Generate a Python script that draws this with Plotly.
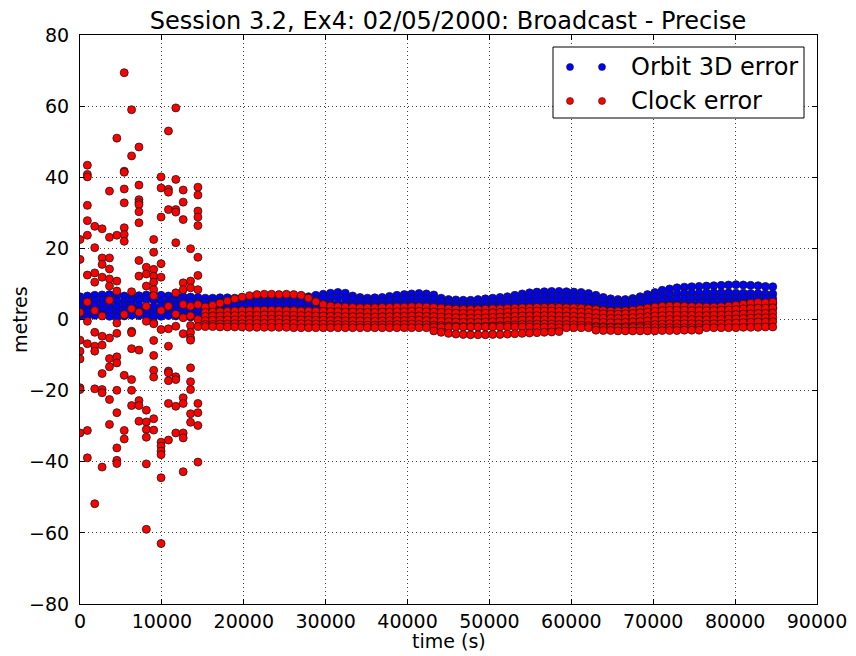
import plotly.graph_objects as go

# ---------------- data ----------------
# epochs every 900 s from 0 to 84600 s
time_s = [900 * k for k in range(95)]
band_time_s = time_s[17:]          # epochs after the noisy start (15300 s ...)
wild_time_s = time_s[:17]          # first epochs (0 ... 14400 s)

# Orbit 3D error tracks (m), one value per epoch
orbit_1 = [6.4, 6.6, 6.8, 6.9, 7.0, 6.8, 6.6, 6.5, 6.7, 6.9, 7.0, 6.8, 6.6, 6.5, 6.4, 6.3, 6.2,
           6.0, 6.0, 6.1, 6.1, 6.0, 6.1, 6.2, 6.3, 6.3, 6.2, 6.3, 6.2, 6.1, 6.2, 6.4,
           6.8, 7.1, 7.4, 7.6, 7.4, 6.6, 6.2, 6.0, 6.1, 6.2, 6.5, 6.8, 7.0, 7.2, 7.3,
           7.2, 6.9, 6.0, 5.6, 5.5, 5.4, 5.4, 5.6, 5.8, 6.0, 6.2, 6.4, 6.8, 7.2, 7.5,
           7.7, 7.8, 7.9, 7.9, 7.8, 7.7, 7.6, 7.3, 6.8, 6.2, 5.8, 5.6, 5.6, 5.9, 6.4,
           7.0, 7.6, 8.2, 8.6, 8.9, 9.1, 9.2, 9.3, 9.4, 9.5, 9.6, 9.7, 9.8, 9.7, 9.6,
           9.5, 9.3, 9.2]
orbit_2 = [5.2, 5.0, 5.3, 5.5, 5.4, 5.2, 5.0, 5.3, 5.5, 5.6, 5.4, 5.2, 5.0, 4.9, 5.1, 5.0, 4.9,
           4.8, 4.8, 4.9, 5.0, 5.0, 5.1, 5.1, 5.0, 5.0, 5.1, 5.2, 5.3, 5.3, 5.4, 5.5,
           5.6, 5.8, 6.0, 6.1, 6.0, 5.6, 5.2, 5.0, 5.0, 5.1, 5.3, 5.5, 5.7, 5.9, 6.0,
           5.9, 5.6, 5.0, 4.6, 4.4, 4.3, 4.3, 4.4, 4.6, 4.8, 5.0, 5.3, 5.6, 5.9, 6.1,
           6.3, 6.4, 6.5, 6.5, 6.4, 6.3, 6.2, 6.0, 5.6, 5.1, 4.8, 4.7, 4.8, 5.1, 5.5,
           5.9, 6.3, 6.7, 7.0, 7.2, 7.3, 7.4, 7.4, 7.5, 7.5, 7.5, 7.5, 7.4, 7.4, 7.3,
           7.3, 7.2, 7.2]
orbit_3 = [3.8, 3.6, 3.9, 4.0, 3.7, 3.5, 3.8, 4.0, 3.9, 3.6, 3.5, 3.7, 3.9, 3.8, 3.6, 3.5, 3.7,
           3.6, 3.6, 3.7, 3.7, 3.8, 3.8, 3.9, 3.9, 4.0, 4.0, 4.0, 4.1, 4.1, 4.2, 4.2,
           4.3, 4.4, 4.5, 4.5, 4.4, 4.2, 4.0, 3.9, 3.9, 4.0, 4.1, 4.2, 4.4, 4.5, 4.6,
           4.5, 4.3, 3.9, 3.6, 3.4, 3.3, 3.3, 3.4, 3.5, 3.7, 3.9, 4.1, 4.4, 4.6, 4.8,
           5.0, 5.1, 5.2, 5.2, 5.1, 5.0, 4.9, 4.7, 4.4, 4.0, 3.8, 3.7, 3.8, 4.0, 4.3,
           4.6, 4.9, 5.2, 5.5, 5.7, 5.8, 5.9, 6.0, 6.0, 6.1, 6.1, 6.1, 6.0, 6.0, 5.9,
           5.9, 5.8, 5.8]
orbit_4 = [2.4, 2.2, 2.5, 2.6, 2.3, 2.1, 2.4, 2.6, 2.5, 2.2, 2.1, 2.3, 2.5, 2.4, 2.2, 2.1, 2.3,
           2.3, 2.3, 2.4, 2.4, 2.5, 2.5, 2.6, 2.6, 2.7, 2.7, 2.7, 2.8, 2.8, 2.8, 2.9,
           3.0, 3.0, 3.1, 3.1, 3.0, 2.9, 2.8, 2.7, 2.7, 2.8, 2.9, 3.0, 3.1, 3.2, 3.2,
           3.1, 3.0, 2.7, 2.5, 2.3, 2.2, 2.2, 2.3, 2.4, 2.5, 2.7, 2.9, 3.1, 3.3, 3.4,
           3.5, 3.6, 3.7, 3.7, 3.6, 3.5, 3.4, 3.3, 3.1, 2.8, 2.6, 2.5, 2.6, 2.8, 3.0,
           3.3, 3.6, 3.9, 4.1, 4.3, 4.4, 4.5, 4.6, 4.6, 4.7, 4.7, 4.7, 4.6, 4.6, 4.5,
           4.5, 4.4, 4.4]
orbit_5 = [1.0, 0.8, 1.2, 1.3, 0.9, 0.7, 1.0, 1.2, 1.1, 0.8, 0.7, 0.9, 1.1, 1.0, 0.8, 0.7, 0.9,
           1.0, 1.0, 1.1, 1.1, 1.2, 1.2, 1.3, 1.3, 1.4, 1.4, 1.4, 1.5, 1.5, 1.5, 1.6,
           1.7, 1.7, 1.8, 1.8, 1.7, 1.6, 1.5, 1.4, 1.4, 1.5, 1.6, 1.7, 1.8, 1.9, 1.9,
           1.8, 1.7, 1.4, 1.2, 1.0, 0.9, 0.9, 1.0, 1.1, 1.2, 1.4, 1.6, 1.8, 2.0, 2.1,
           2.2, 2.3, 2.4, 2.4, 2.3, 2.2, 2.1, 2.0, 1.8, 1.5, 1.3, 1.2, 1.3, 1.5, 1.7,
           2.0, 2.3, 2.6, 2.8, 3.0, 3.1, 3.2, 3.3, 3.3, 3.4, 3.4, 3.4, 3.3, 3.3, 3.2,
           3.2, 3.1, 3.1]

# Clock error (m): scattered values during the first epochs, one list per epoch
clock_wild = [
    [22.5, 16.9, 2.0, -5.8, -8.9, -11.1, -19.2, -19.7, -31.9],
    [43.4, 40.8, 40.1, 32.1, 27.8, 23.7, 12.5, 4.9, -0.5, -6.8, -31.2, -38.9],
    [26.2, 20.2, 13.1, 10.5, 2.5, -3.6, -7.5, -8.9, -19.5, -51.8],
    [25.5, 17.3, 15.5, 11.9, 1.0, -4.7, -7.2, -15.2, -19.7, -20.6, -41.5],
    [36.1, 23.1, 17.3, 14.2, 11.4, 9.4, 5.4, -5.2, -11.0, -13.3, -22.5, -29.5],
    [51.0, 23.7, 10.8, 8.0, -1.0, -3.9, -10.5, -12.2, -19.9, -26.2, -36.1, -39.6, -40.5],
    [69.4, 41.7, 41.4, 36.7, 32.8, 25.8, 23.9, 22.0, 1.4, -15.7, -31.2, -33.6],
    [59.0, 46.0, 7.8, 3.0, -3.3, -3.7, -8.2, -16.9, -19.9, -24.2],
    [48.5, 37.8, 33.7, 32.9, 32.3, 30.3, 27.2, 16.6, 12.2, 2.0, -8.6, -22.8, -24.2, -28.6],
    [14.7, 12.8, 9.4, 3.7, -0.5, -25.5, -28.8, -30.9, -33.1, -40.6, -59.0],
    [22.5, 18.9, 14.1, 12.2, 10.5, 8.4, 6.7, -1.0, -1.2, -5.9, -10.1, -14.3, -16.2, -27.9, -31.1],
    [40.1, 37.0, 28.8, 15.7, 11.9, 2.5, -2.8, -34.5, -35.6, -37.0, -38.0, -44.5, -63.0],
    [53.0, 36.6, 35.8, 30.9, 3.7, -2.6, -7.5, -14.5, -15.0, -17.2, -23.6, -33.9],
    [59.5, 39.4, 30.9, 30.2, 21.6, 7.5, 1.5, -1.9, -16.1, -16.9, -24.4, -31.9],
    [36.4, 33.0, 28.1, 10.3, 8.4, 4.2, 0.5, -4.0, -22.0, -23.6, -31.9, -33.3, -42.8],
    [19.9, 10.8, 8.9, 3.7, 1.0, -1.7, -3.6, -5.2, -5.8, -13.6, -17.5, -19.7, -26.5, -28.9],
    [37.2, 35.0, 30.5, 28.8, 26.4, 17.5, 12.4, 8.4, 4.2, 0.0, -2.0, -23.6, -26.2, -29.8, -40.1],
]

# Clock error tracks after 15300 s (one value per epoch of band_time_s)
clock_1 = [3.5, 4.0, 4.6, 5.2, 5.8, 6.3, 6.7, 7.0, 7.1, 7.1, 7.0, 7.1, 7.0, 6.8, 6.0,
           5.0, 4.2, 3.8, 3.6, 3.5, 3.4, 3.3, 3.3, 3.3, 3.4, 3.4, 3.5, 3.5, 3.6, 3.6,
           3.5, 3.4, 3.2, 3.0, 2.9, 2.8, 2.8, 2.8, 2.9, 3.0, 3.0, 3.1, 3.2, 3.3, 3.3,
           3.4, 3.4, 3.4, 3.4, 3.3, 3.3, 3.2, 3.0, 2.8, 2.5, 2.3, 2.3, 2.4, 2.6, 2.9,
           3.2, 3.5, 3.7, 3.8, 3.8, 3.7, 3.6, 3.6, 3.5, 3.5, 3.6, 3.8, 4.0, 4.3, 4.6,
           4.8, 4.7, 4.9]
clock_2 = [2.0, 2.1, 2.2, 2.3, 2.4, 2.5, 2.5, 2.6, 2.6, 2.6, 2.6, 2.5, 2.5, 2.4, 2.4,
           2.3, 2.3, 2.2, 2.2, 2.1, 2.1, 2.0, 2.0, 2.0, 2.1, 2.1, 2.2, 2.2, 2.3, 2.3,
           2.2, 2.1, 2.0, 1.9, 1.8, 1.7, 1.7, 1.7, 1.8, 1.9, 2.0, 2.1, 2.2, 2.3, 2.3,
           2.4, 2.4, 2.4, 2.3, 2.3, 2.2, 2.1, 2.0, 1.8, 1.6, 1.5, 1.5, 1.6, 1.7, 1.9,
           2.1, 2.3, 2.5, 2.6, 2.6, 2.6, 2.5, 2.5, 2.5, 2.5, 2.6, 2.7, 2.8, 3.0, 3.1,
           3.2, 3.2, 3.3]
clock_3 = [0.9, 1.0, 1.0, 1.1, 1.1, 1.2, 1.2, 1.2, 1.3, 1.3, 1.3, 1.2, 1.2, 1.1, 1.1,
           1.0, 1.0, 0.9, 0.9, 0.8, 0.8, 0.8, 0.7, 0.7, 0.8, 0.8, 0.9, 0.9, 1.0, 1.0,
           0.9, 0.8, 0.7, 0.6, 0.5, 0.5, 0.4, 0.4, 0.5, 0.6, 0.7, 0.8, 0.9, 1.0, 1.0,
           1.1, 1.1, 1.1, 1.0, 1.0, 0.9, 0.8, 0.7, 0.5, 0.4, 0.3, 0.3, 0.4, 0.5, 0.6,
           0.8, 1.0, 1.1, 1.2, 1.2, 1.2, 1.2, 1.1, 1.1, 1.2, 1.2, 1.3, 1.4, 1.5, 1.6,
           1.7, 1.7, 1.8]
clock_4 = [-0.3, -0.2, -0.2, -0.1, -0.1, 0.0, 0.0, 0.0, 0.1, 0.1, 0.1, 0.0, 0.0, -0.1, -0.1,
           -0.2, -0.2, -0.3, -0.3, -0.4, -0.4, -0.4, -0.5, -0.5, -0.4, -0.4, -0.3, -0.3, -0.2, -0.2,
           -0.3, -0.4, -0.5, -0.6, -0.7, -0.8, -0.8, -0.8, -0.7, -0.6, -0.5, -0.4, -0.3, -0.2, -0.2,
           -0.1, -0.1, -0.1, -0.2, -0.2, -0.3, -0.4, -0.5, -0.7, -0.8, -0.9, -0.9, -0.8, -0.7, -0.6,
           -0.4, -0.2, -0.1, 0.0, 0.0, 0.0, 0.0, -0.1, -0.1, 0.0, 0.0, 0.1, 0.2, 0.3, 0.4,
           0.5, 0.5, 0.6]
clock_5 = [-1.4, -1.4, -1.3, -1.3, -1.2, -1.2, -1.1, -1.1, -1.1, -1.0, -1.0, -1.1, -1.1, -1.2, -1.2,
           -1.3, -1.3, -1.4, -1.4, -1.5, -1.5, -1.6, -1.6, -1.6, -1.5, -1.5, -1.4, -1.4, -1.3, -1.4,
           -1.5, -1.6, -1.7, -1.8, -1.9, -2.0, -2.0, -2.0, -1.9, -1.8, -1.7, -1.6, -1.5, -1.4, -1.4,
           -1.3, -1.3, -1.3, -1.4, -1.4, -1.5, -1.6, -1.7, -1.9, -2.0, -2.1, -2.1, -2.0, -1.9, -1.8,
           -1.6, -1.4, -1.3, -1.2, -1.2, -1.2, -1.2, -1.3, -1.3, -1.2, -1.2, -1.1, -1.0, -0.9, -0.8,
           -0.7, -0.7, -0.6]
clock_6 = [-2.0, -2.0, -2.1, -2.1, -2.1, -2.1, -2.2, -2.2, -2.2, -2.2, -2.2, -2.2, -2.3, -2.3, -2.3,
           -2.3, -2.3, -2.3, -2.3, -2.3, -2.3, -2.3, -2.3, -2.3, -2.3, -2.3, -2.3, -2.3, -2.3, -2.3,
           -2.3, -2.2, -2.2, -2.2, -2.1, -2.1, -2.1, -2.1, -2.1, -2.1, -2.1, -2.1, -2.1, -2.1, -2.1,
           -2.2, -2.2, -2.2, -2.3, -2.3, -2.3, -2.3, -2.3, -2.3, -2.3, -2.3, -2.3, -2.3, -2.3, -2.3,
           -2.3, -2.3, -2.3, -2.3, -2.3, -2.3, -2.3, -2.3, -2.3, -2.3, -2.3, -2.3, -2.3, -2.2, -2.2,
           -2.2, -2.1, -2.1]
N = None
clock_7 = [N, N, N, N, N, N, N, N, N, N, N, N, N, N, N,
           N, N, N, N, N, N, N, N, N, N, N, N, N, N, N,
           N, -3.2, -3.6, -3.9, -4.1, -4.2, -4.3, -4.3, -4.3, -4.2, -4.2, -4.1, -4.0, -3.9, -3.8,
           -3.7, -3.6, -3.5, -3.4, N, N, N, N, -3.0, -3.1, -3.1, -3.2, -3.2, -3.2, -3.2,
           -3.2, -3.2, -3.1, -3.1, -3.1, -3.0, -3.0, -3.0, N, N, N, N, N, N, N,
           N, N, N]

orbit_tracks = [orbit_1, orbit_2, orbit_3, orbit_4, orbit_5]
clock_tracks = [clock_1, clock_2, clock_3, clock_4, clock_5, clock_6, clock_7]
for tr in orbit_tracks:
    assert len(tr) == len(time_s), len(tr)
for tr in clock_tracks:
    assert len(tr) == len(band_time_s), len(tr)
assert len(clock_wild) == len(wild_time_s)

# ---------------- assemble ----------------
orbit_x, orbit_y = [], []
for tr in orbit_tracks:
    orbit_x += time_s
    orbit_y += tr

clock_x, clock_y = [], []
for t, vals in zip(wild_time_s, clock_wild):
    clock_x += [t] * len(vals)
    clock_y += vals
for tr in clock_tracks:
    for t, v in zip(band_time_s, tr):
        if v is not None:
            clock_x.append(t)
            clock_y.append(v)

FONT = "DejaVu Sans"
edge = dict(color="#1a1a1a", width=0.8)

fig = go.Figure()
fig.add_trace(go.Scatter(x=orbit_x, y=orbit_y, mode="markers", name="Orbit 3D error",
                         marker=dict(color="#0000ff", size=8, line=edge), showlegend=False))
fig.add_trace(go.Scatter(x=clock_x, y=clock_y, mode="markers", name="Clock error",
                         marker=dict(color="#ff0000", size=8, line=edge), showlegend=False))

# page is offset by the 8px body margin of the html page
OFF = 8
W, H = 856 - OFF, 656 - OFF
# plot area in page pixels: x 80..817, y 35..604
L, R, T, B = 80, 817, 35, 604
PW, PH = R - L, B - T

def px(xp):
    return (xp - L) / PW

def py(yp):
    return (B - yp) / PH

shapes = [dict(type="rect", xref="paper", yref="paper",
               x0=px(553), x1=px(804), y0=py(118), y1=py(47),
               line=dict(color="black", width=1), fillcolor="white", layer="above")]
annotations = []
for color, label, yy in [("#0000ff", "Orbit 3D error", 67), ("#ff0000", "Clock error", 101)]:
    for xx in (570, 602):
        shapes.append(dict(type="circle", xref="paper", yref="paper",
                           xsizemode="pixel", ysizemode="pixel",
                           xanchor=px(xx), yanchor=py(yy),
                           x0=-3.5, x1=3.5, y0=-3.5, y1=3.5,
                           fillcolor=color, line=dict(color="#1a1a1a", width=0.6),
                           layer="above"))
    annotations.append(dict(text=label, xref="paper", yref="paper",
                            x=px(629), y=py(yy), xanchor="left", yanchor="middle",
                            showarrow=False, font=dict(family=FONT, size=24, color="black")))

annotations.append(dict(text="metres", xref="paper", yref="paper", x=px(20), y=py(320),
                        xanchor="center", yanchor="middle", textangle=-90, showarrow=False,
                        font=dict(family=FONT, size=19, color="black")))
annotations.append(dict(text="time (s)", xref="paper", yref="paper", x=px(449), y=py(641),
                        xanchor="center", yanchor="middle", showarrow=False,
                        font=dict(family=FONT, size=19, color="black")))

axis_common = dict(showline=True, linecolor="black", linewidth=1, mirror="ticks",
                   ticks="inside", ticklen=5, tickcolor="black", tickwidth=1,
                   showgrid=True, gridcolor="#444444", gridwidth=1, griddash="1px,3px",
                   zeroline=False, automargin=False,
                   tickfont=dict(family=FONT, size=19, color="black"))

fig.update_layout(
    width=W, height=H,
    margin=dict(l=L - OFF, r=856 - R, t=T - OFF, b=656 - B, autoexpand=False),
    paper_bgcolor="white", plot_bgcolor="white",
    title=dict(text="Session 3.2, Ex4: 02/05/2000: Broadcast - Precise",
               x=px(448), xref="paper", y=1 - (21 - OFF) / H, yref="container",
               xanchor="center", yanchor="middle", automargin=False,
               font=dict(family=FONT, size=24, color="black")),
    xaxis=dict(range=[0, 90000], dtick=10000, tick0=0, tickformat="d",
               ticklabelstandoff=0, **axis_common),
    yaxis=dict(range=[-80, 80], dtick=20, tick0=0, tickformat="d",
               ticklabelstandoff=6, **axis_common),
    shapes=shapes, annotations=annotations,
    showlegend=False,
)

fig.write_html("out.html")
